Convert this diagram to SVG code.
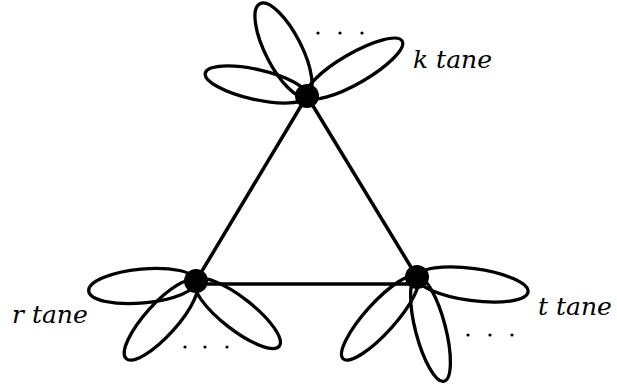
<svg xmlns="http://www.w3.org/2000/svg" width="617" height="387" viewBox="0 0 617 387">
<style>
.petal{fill:none;stroke:#000;stroke-width:3.3}
.edge{stroke:#000;stroke-width:3.5;stroke-linecap:round}
.node{fill:#000}
.dot{fill:#000}
.lbl{font-family:"DejaVu Serif",serif;font-style:italic;font-size:25px;fill:#000}
</style>
<rect width="617" height="387" fill="#fff"/>
<g id="connectors">
<line class="edge" x1="307" y1="96" x2="196" y2="281"/>
<line class="edge" x1="307" y1="96" x2="417" y2="277"/>
<line class="edge" x1="196" y1="284" x2="417" y2="284"/>
</g>
<g id="node-top">
<ellipse class="petal" cx="283.5" cy="50" rx="52" ry="18" transform="rotate(63 283.5 50)"/>
<ellipse class="petal" cx="256" cy="84.5" rx="52" ry="15" transform="rotate(12.7 256 84.5)"/>
<ellipse class="petal" cx="354.5" cy="68.5" rx="55" ry="15" transform="rotate(-30 354.5 68.5)"/>
<circle class="node" cx="307" cy="96" r="12"/>
<circle class="dot" cx="318" cy="33" r="1.6"/>
<circle class="dot" cx="340" cy="33" r="1.6"/>
<circle class="dot" cx="362" cy="33" r="1.6"/>
<text class="lbl" x="413" y="68">k tane</text>
</g>
<g id="node-left">
<ellipse class="petal" cx="142.5" cy="286" rx="54" ry="17" transform="rotate(-5.3 142.5 286)"/>
<ellipse class="petal" cx="161" cy="320" rx="52" ry="16" transform="rotate(-48 161 320)"/>
<ellipse class="petal" cx="237.5" cy="313.5" rx="53" ry="16" transform="rotate(38 237.5 313.5)"/>
<circle class="node" cx="196" cy="281" r="12"/>
<circle class="dot" cx="185" cy="347" r="1.6"/>
<circle class="dot" cx="205" cy="347" r="1.6"/>
<circle class="dot" cx="227" cy="347" r="1.6"/>
<text class="lbl" x="12" y="323">r tane</text>
</g>
<g id="node-right">
<ellipse class="petal" cx="472.5" cy="284.5" rx="56" ry="16" transform="rotate(7.7 472.5 284.5)"/>
<ellipse class="petal" cx="430.5" cy="329" rx="54" ry="15" transform="rotate(75.4 430.5 329)"/>
<ellipse class="petal" cx="380" cy="318" rx="55" ry="15" transform="rotate(-48 380 318)"/>
<circle class="node" cx="417" cy="277" r="12"/>
<circle class="dot" cx="468" cy="335" r="1.6"/>
<circle class="dot" cx="490" cy="335" r="1.6"/>
<circle class="dot" cx="512" cy="335" r="1.6"/>
<text class="lbl" x="538" y="315">t tane</text>
</g>
</svg>
